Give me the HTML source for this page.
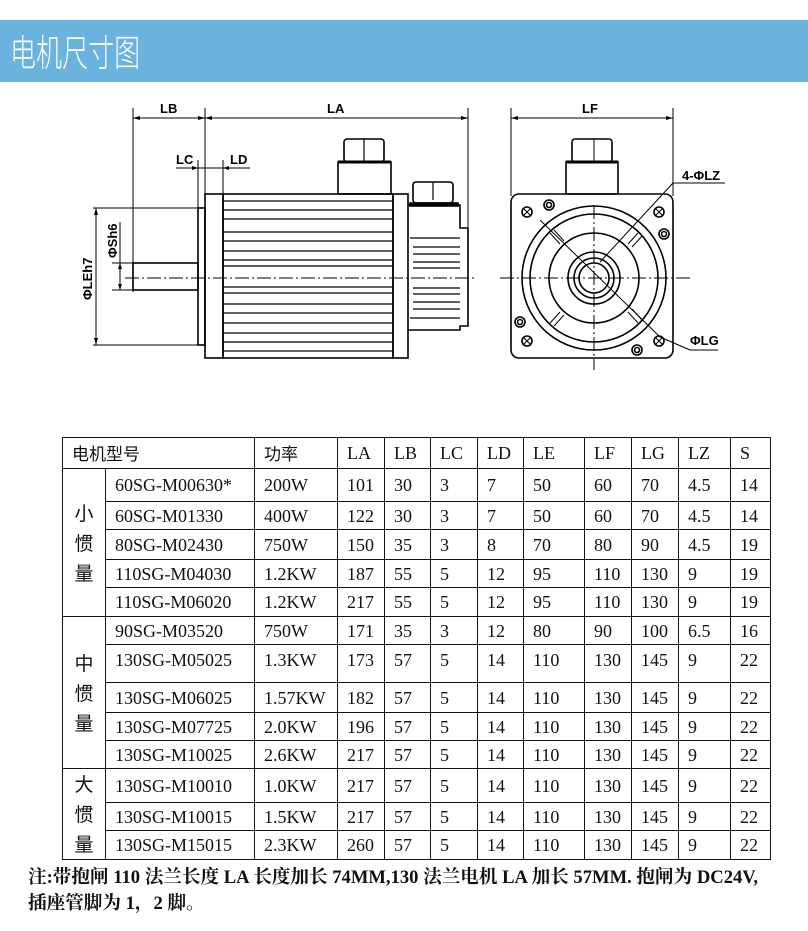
<!DOCTYPE html>
<html><head><meta charset="utf-8"><style>
body{margin:0;background:#fff;width:808px;height:931px;position:relative;overflow:hidden;font-family:"Liberation Serif","Noto Serif CJK SC",serif;}
.hdr{position:absolute;left:0;top:20px;width:808px;height:62px;background:#69b3de;}
.hdr span{position:absolute;left:10px;top:3px;font:31px "Noto Sans CJK SC","WenQuanYi Zen Hei",sans-serif;color:#fff;font-weight:300;transform-origin:0 0;transform:scale(0.84,1.2);white-space:nowrap}
table{position:absolute;left:62px;top:437px;border-collapse:collapse;table-layout:fixed;}
td{border:1.5px solid #111;padding:0 0 0 9px;font-size:18px;color:#111;white-space:nowrap;overflow:hidden;height:0;line-height:18px;vertical-align:middle}
td.g{padding:0;text-align:center;font-family:"Noto Sans CJK SC",sans-serif;font-size:19px;line-height:30px}
.note{position:absolute;left:28px;top:865px;font-weight:bold;font-size:18.6px;line-height:26px;color:#111;white-space:nowrap}
svg{position:absolute;left:0;top:0}
</style></head><body>
<div class="hdr"><span>电机尺寸图</span></div>
<svg width="808" height="420" viewBox="0 0 808 420">
<g stroke="#000" fill="none" stroke-width="1">
<line x1="133" y1="108" x2="133" y2="292"/><line x1="205" y1="108" x2="205" y2="196"/><line x1="468" y1="108" x2="468" y2="227"/>
<line x1="133" y1="118" x2="205" y2="118"/><line x1="205" y1="118" x2="468" y2="118"/>
<line x1="176" y1="168" x2="250" y2="168"/><line x1="198" y1="160" x2="198" y2="209"/><line x1="223" y1="160" x2="223" y2="196"/>
<line x1="93" y1="208" x2="198" y2="208"/><line x1="93" y1="345" x2="198" y2="345"/><line x1="96" y1="208" x2="96" y2="345"/>
<line x1="120" y1="222" x2="120" y2="290"/><line x1="112" y1="263" x2="133" y2="263"/><line x1="112" y1="290" x2="133" y2="290"/>
</g>
<g fill="#000">
<path d="M133 118l7 -2v4z M205 118l-7 -2v4z M205 118l7 -2v4z M468 118l-7 -2v4z M198 168l-6 -2v4z M223 168l6 -2v4z M96 208l-2 7h4z M96 345l-2 -7h4z M120 263l-2 6h4z M120 290l-2 -6h4z"/>
</g>
<g stroke="#000" fill="none" stroke-width="1.6">
<rect x="133" y="263" width="65" height="27"/>
<rect x="198" y="208" width="7" height="137"/>
<rect x="205" y="194" width="18" height="164"/>
<rect x="223" y="194" width="170" height="164"/>
<rect x="393" y="194" width="15" height="164"/>
<path d="M408 205H460V228H468V326H460V330H408"/>
<rect x="338" y="162" width="53" height="32"/><rect x="344" y="139" width="40" height="23" rx="3"/>
<rect x="410" y="203" width="48" height="3"/><rect x="413" y="182" width="40" height="21" rx="3"/>
</g>
<g stroke="#000" stroke-width="1.2">
<line x1="338" y1="162" x2="391" y2="162" stroke-width="3"/><line x1="410" y1="204" x2="458" y2="204" stroke-width="3"/>
<line x1="364" y1="139" x2="364" y2="162"/><line x1="433" y1="182" x2="433" y2="200"/>
<path d="M223 201H393M223 210H393M223 219H393M223 232H393M223 241H393M223 251H393M223 260H393M223 266H393M223 287H393M223 293H393M223 304H393M223 313H393M223 323H393M223 333H393M223 342H393M223 351H393"/>
<path d="M413 247H460M413 254H460M413 262H460M413 268H460M413 288H460M413 294H460M413 302H460M413 309H460M410 238H460M410 318H460"/>
<path d="M125 278H475" stroke-dasharray="14 3 2 3" stroke-width="1"/>
</g>
<g font-family="Liberation Sans,sans-serif" font-weight="bold" font-size="13" fill="#000">
<text x="160" y="113">LB</text><text x="327" y="113">LA</text><text x="176" y="164">LC</text><text x="230" y="164">LD</text>
<text transform="translate(92,300) rotate(-90)">ΦLEh7</text><text transform="translate(117,258) rotate(-90)">ΦSh6</text>
<text x="582" y="113">LF</text><text x="682" y="180">4-ΦLZ</text><text x="690" y="345">ΦLG</text>
</g>
<g stroke="#000" fill="none" stroke-width="1">
<line x1="511" y1="108" x2="511" y2="196"/><line x1="673" y1="108" x2="673" y2="196"/><line x1="511" y1="118" x2="673" y2="118"/>
<line x1="673" y1="183" x2="725" y2="183"/><line x1="673" y1="183" x2="600" y2="262"/>
<line x1="540" y1="220" x2="660" y2="337"/><line x1="660" y1="337" x2="690" y2="350"/><line x1="690" y1="350" x2="718" y2="350"/>
<line x1="500" y1="278" x2="690" y2="278" stroke-dasharray="14 3 2 3"/><line x1="594" y1="205" x2="594" y2="370" stroke-dasharray="14 3 2 3"/>
</g>
<path fill="#000" d="M511 118l7 -2v4z M673 118l-7 -2v4z"/>
<g stroke="#000" fill="none" stroke-width="1.6">
<rect x="511" y="194" width="162" height="164" rx="8"/>
<rect x="566" y="162" width="52" height="32"/><rect x="572" y="139" width="40" height="23" rx="3"/>
<circle cx="594" cy="278" r="72"/><circle cx="594" cy="278" r="64"/><circle cx="594" cy="278" r="45"/>
<circle cx="594" cy="278" r="26"/><circle cx="594" cy="278" r="20"/><circle cx="594" cy="278" r="15"/>
<circle cx="527" cy="212" r="5"/><circle cx="659" cy="212" r="5"/><circle cx="527" cy="341" r="5"/><circle cx="659" cy="341" r="5"/>
<circle cx="549" cy="205" r="5"/><circle cx="664" cy="234" r="5"/><circle cx="520" cy="322" r="5"/><circle cx="637" cy="350" r="5"/>
<circle cx="549" cy="205" r="2.5"/><circle cx="664" cy="234" r="2.5"/><circle cx="520" cy="322" r="2.5"/><circle cx="637" cy="350" r="2.5"/>
</g>
<g stroke="#000" stroke-width="1"><line x1="566" y1="162" x2="618" y2="162" stroke-width="3"/><line x1="594" y1="139" x2="594" y2="162"/>
<path d="M523 208l8 8M531 208l-8 8M655 208l8 8M663 208l-8 8M523 337l8 8M531 337l-8 8M655 337l8 8M663 337l-8 8"/>
<path d="M550 233l10 11M554 230l10 11M628 244l10 -11M632 247l10 -11M550 323l10 -11M554 326l10 -11M628 312l10 11M632 309l10 11"/></g>
</svg>
<table>
<colgroup><col style="width:43px"><col style="width:149px"><col style="width:83px"><col style="width:47px"><col style="width:46px"><col style="width:47px"><col style="width:46px"><col style="width:61px"><col style="width:47px"><col style="width:47px"><col style="width:52px"><col style="width:40px"></colgroup>
<tr style="height:31px"><td colspan="2" style="font-family:'Noto Sans CJK SC',sans-serif;font-size:17px">电机型号</td><td style="font-family:'Noto Sans CJK SC',sans-serif;font-size:17px">功率</td><td>LA</td><td>LB</td><td>LC</td><td>LD</td><td>LE</td><td>LF</td><td>LG</td><td>LZ</td><td>S</td></tr>
<tr style="height:33px"><td class="g" rowspan="5">小<br>惯<br>量</td><td>60SG-M00630*</td><td>200W</td><td>101</td><td>30</td><td>3</td><td>7</td><td>50</td><td>60</td><td>70</td><td>4.5</td><td>14</td></tr>
<tr style="height:28px"><td>60SG-M01330</td><td>400W</td><td>122</td><td>30</td><td>3</td><td>7</td><td>50</td><td>60</td><td>70</td><td>4.5</td><td>14</td></tr>
<tr style="height:30px"><td>80SG-M02430</td><td>750W</td><td>150</td><td>35</td><td>3</td><td>8</td><td>70</td><td>80</td><td>90</td><td>4.5</td><td>19</td></tr>
<tr style="height:28px"><td>110SG-M04030</td><td>1.2KW</td><td>187</td><td>55</td><td>5</td><td>12</td><td>95</td><td>110</td><td>130</td><td>9</td><td>19</td></tr>
<tr style="height:29px"><td>110SG-M06020</td><td>1.2KW</td><td>217</td><td>55</td><td>5</td><td>12</td><td>95</td><td>110</td><td>130</td><td>9</td><td>19</td></tr>
<tr style="height:28px"><td class="g" rowspan="5">中<br>惯<br>量</td><td>90SG-M03520</td><td>750W</td><td>171</td><td>35</td><td>3</td><td>12</td><td>80</td><td>90</td><td>100</td><td>6.5</td><td>16</td></tr>
<tr style="height:38px"><td style="vertical-align:top;padding-top:6px">130SG-M05025</td><td style="vertical-align:top;padding-top:6px">1.3KW</td><td style="vertical-align:top;padding-top:6px">173</td><td style="vertical-align:top;padding-top:6px">57</td><td style="vertical-align:top;padding-top:6px">5</td><td style="vertical-align:top;padding-top:6px">14</td><td style="vertical-align:top;padding-top:6px">110</td><td style="vertical-align:top;padding-top:6px">130</td><td style="vertical-align:top;padding-top:6px">145</td><td style="vertical-align:top;padding-top:6px">9</td><td style="vertical-align:top;padding-top:6px">22</td></tr>
<tr style="height:30px"><td>130SG-M06025</td><td>1.57KW</td><td>182</td><td>57</td><td>5</td><td>14</td><td>110</td><td>130</td><td>145</td><td>9</td><td>22</td></tr>
<tr style="height:28px"><td>130SG-M07725</td><td>2.0KW</td><td>196</td><td>57</td><td>5</td><td>14</td><td>110</td><td>130</td><td>145</td><td>9</td><td>22</td></tr>
<tr style="height:28px"><td>130SG-M10025</td><td>2.6KW</td><td>217</td><td>57</td><td>5</td><td>14</td><td>110</td><td>130</td><td>145</td><td>9</td><td>22</td></tr>
<tr style="height:34px"><td class="g" rowspan="3">大<br>惯<br>量</td><td>130SG-M10010</td><td>1.0KW</td><td>217</td><td>57</td><td>5</td><td>14</td><td>110</td><td>130</td><td>145</td><td>9</td><td>22</td></tr>
<tr style="height:28px"><td>130SG-M10015</td><td>1.5KW</td><td>217</td><td>57</td><td>5</td><td>14</td><td>110</td><td>130</td><td>145</td><td>9</td><td>22</td></tr>
<tr style="height:29px"><td>130SG-M15015</td><td>2.3KW</td><td>260</td><td>57</td><td>5</td><td>14</td><td>110</td><td>130</td><td>145</td><td>9</td><td>22</td></tr>
</table>
<div class="note">注:带抱闸 110 法兰长度 LA 长度加长 74MM,130 法兰电机 LA 加长 57MM. 抱闸为 DC24V,<br>插座管脚为 1，2 脚。</div>
</body></html>
